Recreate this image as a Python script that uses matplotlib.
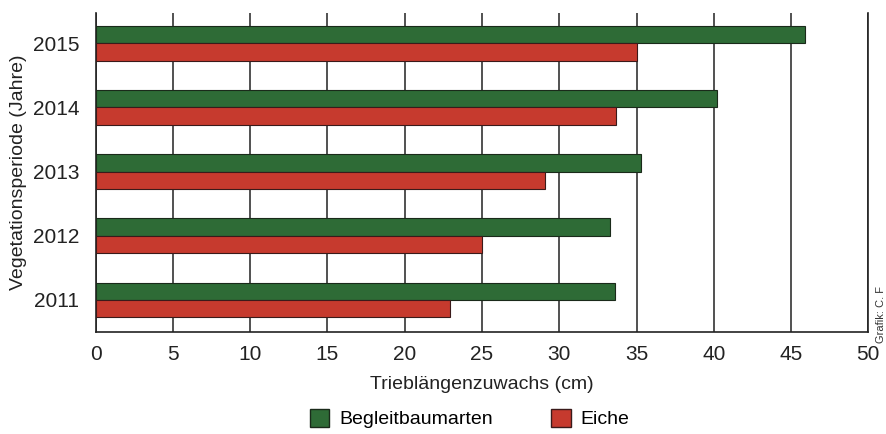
import numpy as np
import matplotlib.pyplot as plt
from matplotlib.patches import Patch

years = ['2011', '2012', '2013', '2014', '2015']
begleit = [33.6, 33.3, 35.3, 40.2, 45.9]
eiche = [22.9, 25.0, 29.1, 33.7, 35.0]

green = '#2e6b36'
red = '#c63a2e'

plt.rcParams['font.family'] = ['Liberation Sans', 'DejaVu Sans']

fig = plt.figure(figsize=(8.86, 4.34), dpi=100)
ax = fig.add_axes([0.108, 0.235, 0.872, 0.735])

y = np.arange(len(years))
h = 0.27
ax.barh(y + h / 2, begleit, height=h, color=green, edgecolor='#1a2a1a', linewidth=0.8, zorder=3)
ax.barh(y - h / 2, eiche, height=h, color=red, edgecolor='#3a1a1a', linewidth=0.8, zorder=3)

ax.set_xlim(0, 50)
ax.set_ylim(-0.5, 4.47)
ax.set_xticks(range(0, 51, 5))
ax.set_yticks(y)
ax.set_yticklabels(years)
ax.xaxis.grid(True, color='#222222', linewidth=1.1, zorder=0)
ax.tick_params(axis='both', length=0, labelsize=15, pad=9, colors='#222222')
ax.tick_params(axis='y', pad=12)
for s in ['left', 'bottom', 'right']:
    ax.spines[s].set_linewidth(1.2)
    ax.spines[s].set_color('#222222')
ax.spines['top'].set_visible(False)

ax.set_xlabel('Trieblängenzuwachs (cm)', fontsize=14, labelpad=9, color='#222222')
ax.set_ylabel('Vegetationsperiode (Jahre)', fontsize=14, labelpad=4, color='#222222')

handles = [Patch(facecolor=green, edgecolor='#1a2a1a'), Patch(facecolor=red, edgecolor='#3a1a1a')]
fig.legend(handles, ['Begleitbaumarten', 'Eiche'], loc='center', bbox_to_anchor=(0.53, 0.035),
           ncol=2, frameon=False, fontsize=14, handlelength=1.0, handleheight=1.0,
           columnspacing=3.0, handletextpad=0.5)

fig.text(0.994, 0.21, 'Grafik: C. F', rotation=90, fontsize=8, ha='center', va='bottom', color='#333333')

fig.savefig('out.png', dpi=100)
